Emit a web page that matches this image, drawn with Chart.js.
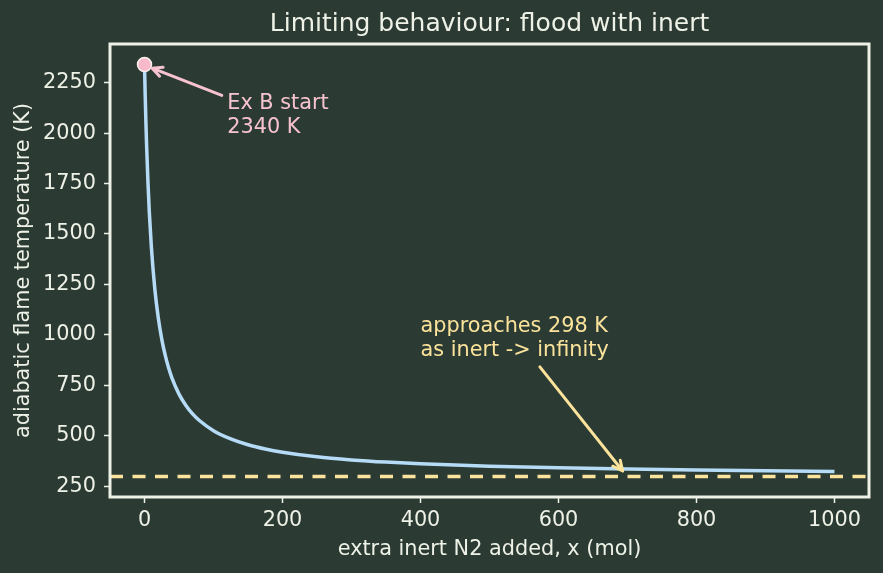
<!DOCTYPE html>
<html>
<head>
<meta charset="utf-8">
<script src="https://cdn.jsdelivr.net/npm/chart.js@4/dist/chart.umd.min.js"></script>
<style>
  html, body { margin: 0; padding: 0; background: #2b3b34; }
  canvas { display: block; }
</style>
</head>
<body>
<canvas id="flameChart" width="883" height="573"></canvas>
<script>
// extra inert added (mol) and the flame temperature (K)
const inertAdded = [0, 1, 2, 3, 5, 7, 10, 15, 20, 25, 30, 35, 40, 50, 60, 70, 80, 100, 125, 150, 175, 200, 250, 300, 350, 400, 500, 600, 700, 800, 900, 1000];
const flameTemp  = [2340, 2189, 2058, 1945, 1757, 1607, 1432, 1226, 1083, 979, 899, 835, 784, 706, 650, 607, 574, 525, 484, 455, 434, 418, 395, 380, 369, 361, 349, 341, 335, 330, 326, 323];

// Ex B starting point and the ambient limit
const startPoint = { x: 0, y: 2340 };
const ambientTemp = 298;

// tick labels
const xTicks = [0, 200, 400, 600, 800, 1000];
const yTicks = [250, 500, 750, 1000, 1250, 1500, 1750, 2000, 2250];

const textColor = '#eef1e6';
const frameColor = '#eef1e6';
const fontFamily = '"DejaVu Sans", sans-serif';

// annotations (text anchor and arrow tail/head in data units)
const notes = [
    { lines: ['Ex B start', '2340 K'], at: { x: 120, y: 2148 }, tail: { x: 112, y: 2187 }, head: { x: 11, y: 2322 }, color: '#f8c3d1' },
    { lines: ['approaches 298 K', 'as inert -> infinity'], at: { x: 400, y: 1040 }, tail: { x: 573, y: 841 }, head: { x: 693, y: 325 }, color: '#fbe39b' }
];

// Frame round the plot area
const framePlugin = {
    id: 'frame',
    afterDatasetsDraw(chart) {
        const { ctx, chartArea } = chart;
        ctx.save();
        ctx.strokeStyle = frameColor;
        ctx.lineWidth = 3;
        ctx.strokeRect(chartArea.left, chartArea.top, chartArea.right - chartArea.left, chartArea.bottom - chartArea.top);
        ctx.restore();
    }
};

// Annotation text and arrows
const notesPlugin = {
    id: 'notes',
    afterDraw(chart) {
        const { ctx } = chart;
        const xs = chart.scales.x;
        const ys = chart.scales.y;
        ctx.save();
        notes.forEach(note => {
            const tx = xs.getPixelForValue(note.tail.x), ty = ys.getPixelForValue(note.tail.y);
            const hx = xs.getPixelForValue(note.head.x), hy = ys.getPixelForValue(note.head.y);
            ctx.strokeStyle = note.color;
            ctx.lineWidth = 3;
            ctx.lineCap = 'round';
            ctx.lineJoin = 'round';
            ctx.beginPath();
            ctx.moveTo(tx, ty);
            ctx.lineTo(hx, hy);
            const ang = Math.atan2(hy - ty, hx - tx);
            const len = 11, spread = 0.45;
            ctx.moveTo(hx - len * Math.cos(ang - spread), hy - len * Math.sin(ang - spread));
            ctx.lineTo(hx, hy);
            ctx.lineTo(hx - len * Math.cos(ang + spread), hy - len * Math.sin(ang + spread));
            ctx.stroke();

            ctx.fillStyle = note.color;
            ctx.font = '20.8px ' + fontFamily;
            ctx.textBaseline = 'middle';
            ctx.textAlign = 'left';
            const px = xs.getPixelForValue(note.at.x);
            const py = ys.getPixelForValue(note.at.y);
            note.lines.forEach((line, i) => ctx.fillText(line, px, py + i * 24));
        });
        ctx.restore();
    }
};

const plainTick = value => String(value);

const ctx = document.getElementById('flameChart').getContext('2d');
const flameChart = new Chart(ctx, {
    type: 'scatter',
    data: {
        datasets: [
            {
                label: 'start',
                data: [startPoint],
                pointRadius: 7,
                pointBackgroundColor: '#f8b9ca',
                pointBorderColor: '#fbeef0',
                pointBorderWidth: 1.5,
                order: 0
            },
            {
                label: 'T_ad',
                data: inertAdded.map((x, i) => ({ x: x, y: flameTemp[i] })),
                showLine: true,
                borderColor: '#b6dbf7',
                borderWidth: 3.5,
                pointRadius: 0,
                cubicInterpolationMode: 'monotone',
                order: 1
            },
            {
                label: 'ambient',
                data: [{ x: -50, y: ambientTemp }, { x: 1050, y: ambientTemp }],
                showLine: true,
                borderColor: '#fbe39b',
                borderWidth: 3.5,
                borderDash: [13, 9.5],
                pointRadius: 0,
                order: 2
            }
        ]
    },
    options: {
        responsive: false,
        animation: false,
        layout: { padding: { left: 0, right: 14, top: 0, bottom: 0 } },
        plugins: {
            legend: { display: false },
            tooltip: { enabled: false },
            title: {
                display: true,
                text: 'Limiting behaviour: flood with inert',
                color: textColor,
                fullSize: false,
                font: { family: fontFamily, size: 25, weight: 'normal', lineHeight: 1.2 },
                padding: { top: 9, bottom: 5 }
            }
        },
        scales: {
            x: {
                type: 'linear',
                min: -50,
                max: 1050,
                afterBuildTicks: scale => { scale.ticks = xTicks.map(v => ({ value: v })); },
                afterFit: scale => { scale.height = 76; },
                grid: { drawOnChartArea: false, drawTicks: true, tickLength: 6, tickColor: frameColor, tickWidth: 1.5 },
                border: { display: false },
                ticks: { color: textColor, font: { family: fontFamily, size: 20.8 }, padding: 5, maxRotation: 0, callback: plainTick },
                title: {
                    display: true,
                    text: 'extra inert N2 added, x (mol)',
                    color: textColor,
                    font: { family: fontFamily, size: 20.8, lineHeight: 1.2 },
                    padding: { top: 0, bottom: 11 }
                }
            },
            y: {
                type: 'linear',
                min: 196,
                max: 2442,
                afterBuildTicks: scale => { scale.ticks = yTicks.map(v => ({ value: v })); },
                afterFit: scale => { scale.width = 110; },
                grid: { drawOnChartArea: false, drawTicks: true, tickLength: 6, tickColor: frameColor, tickWidth: 1.5 },
                border: { display: false },
                ticks: { color: textColor, font: { family: fontFamily, size: 20.8 }, padding: 8, callback: plainTick },
                title: {
                    display: true,
                    text: 'adiabatic flame temperature (K)',
                    color: textColor,
                    font: { family: fontFamily, size: 20.8, lineHeight: 1.2 },
                    padding: { top: 11, bottom: 0 }
                }
            }
        }
    },
    plugins: [framePlugin, notesPlugin]
});
</script>
</body>
</html>
